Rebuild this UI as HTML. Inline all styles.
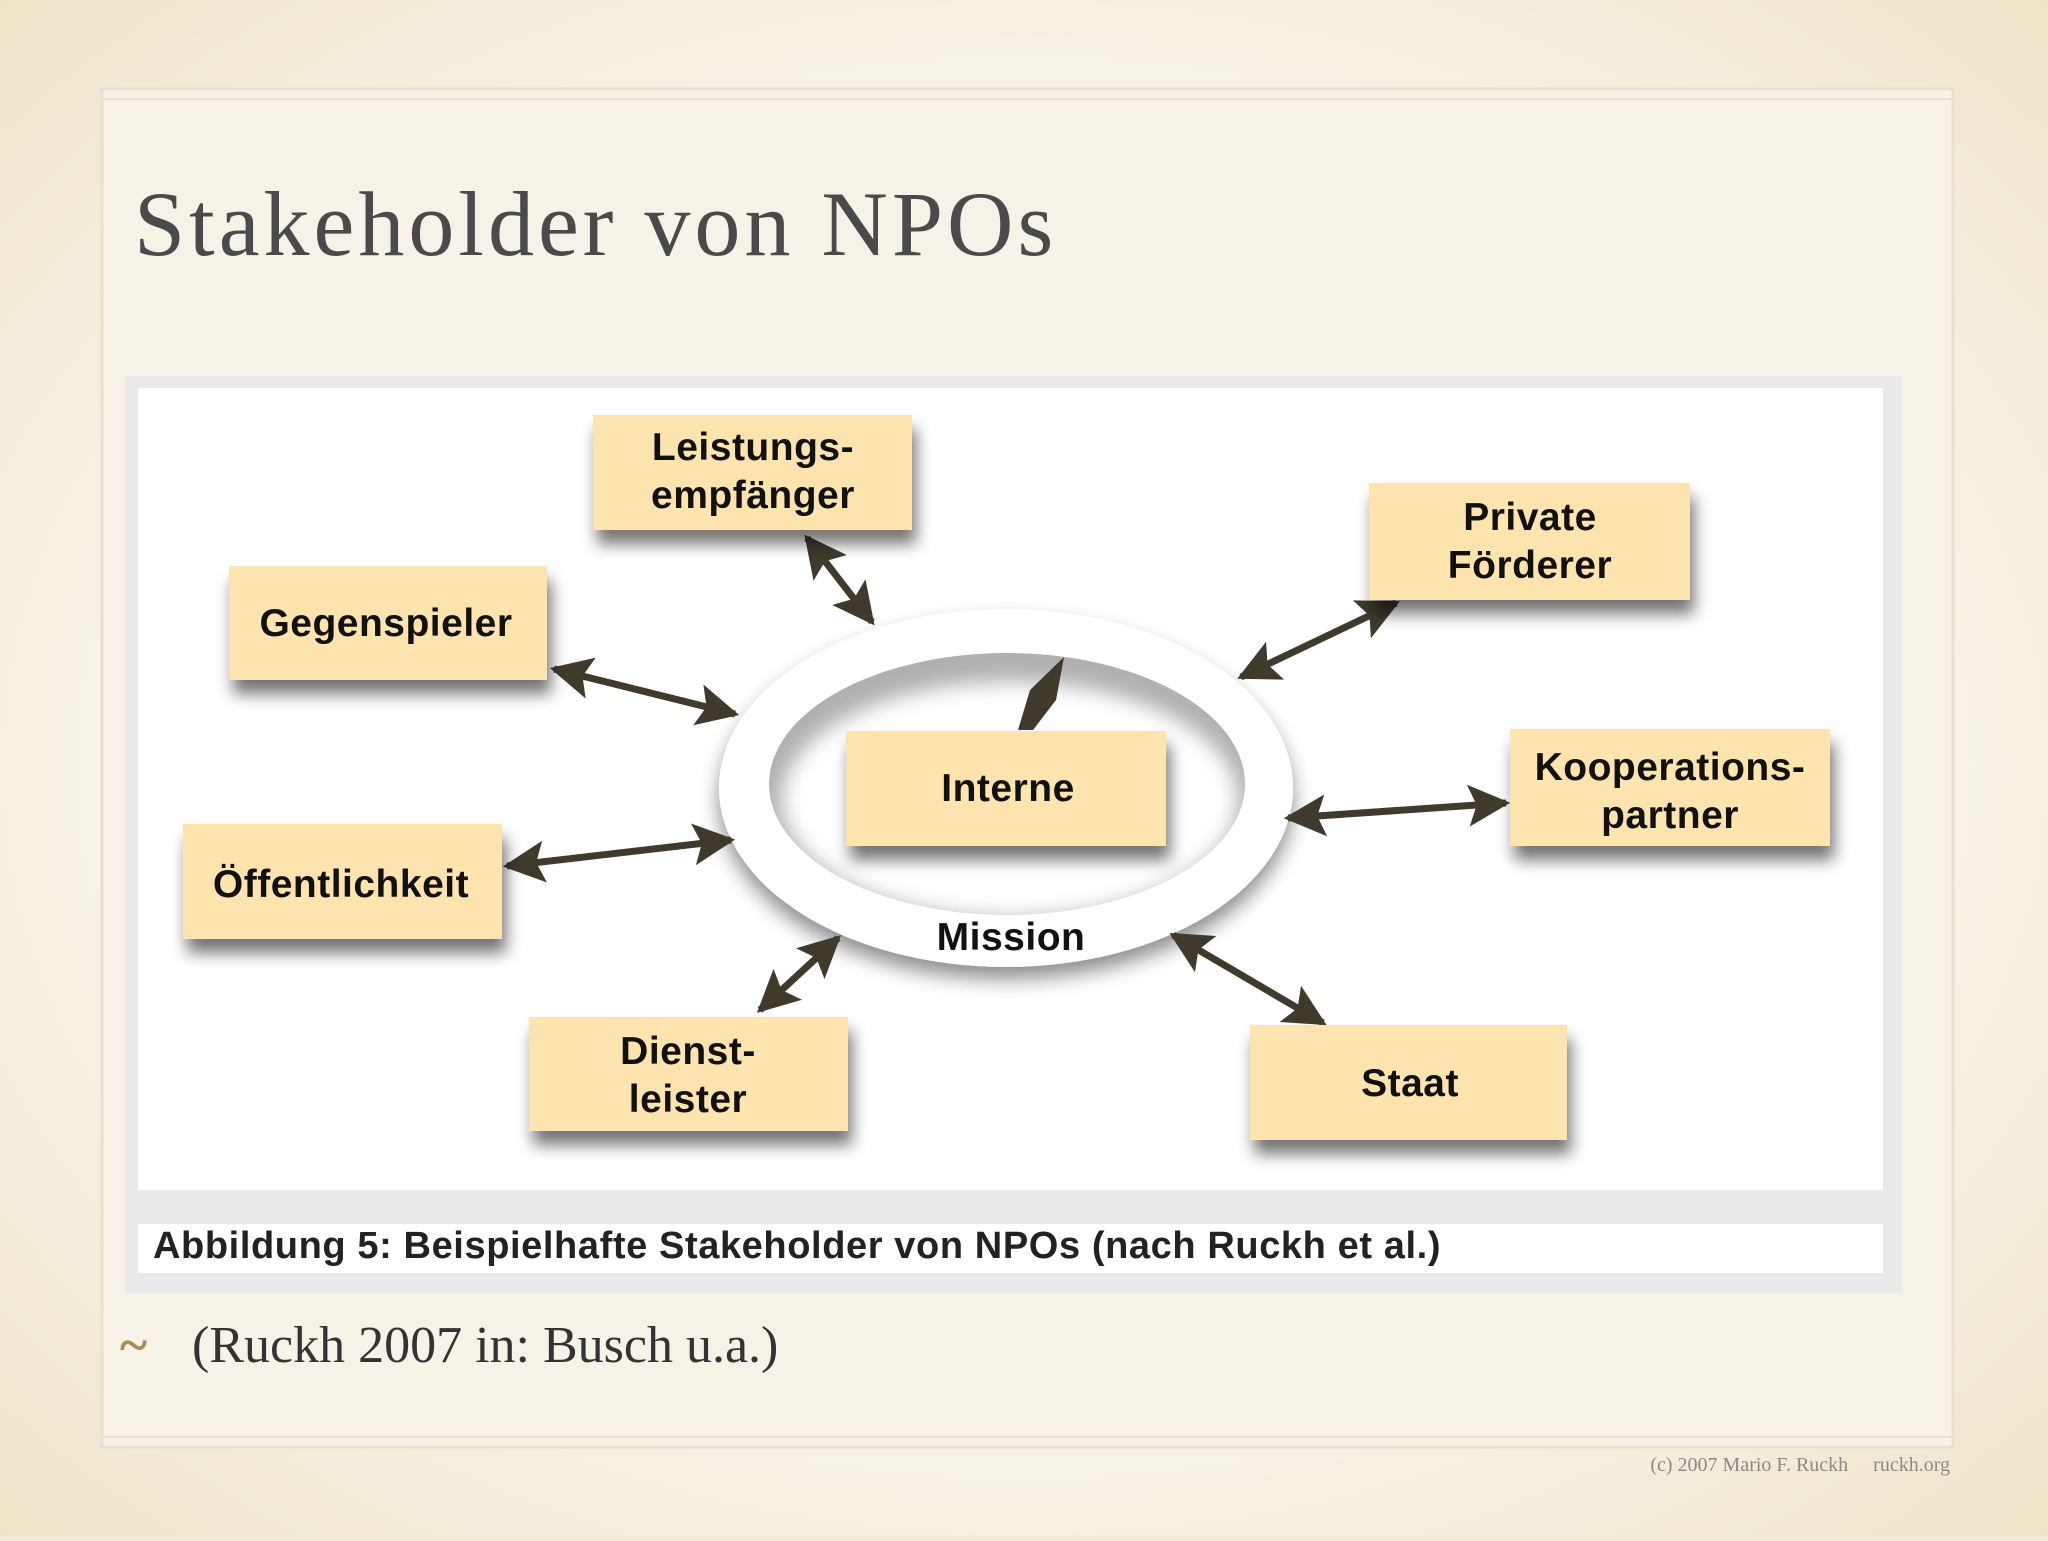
<!DOCTYPE html>
<html><head><meta charset="utf-8"><style>
html,body{margin:0;padding:0}
body{width:2048px;height:1536px;overflow:hidden;background:#f1ead6}
</style></head><body>
<svg width="2048" height="1536" viewBox="0 0 2048 1536" xmlns="http://www.w3.org/2000/svg">
<defs>
<radialGradient id="bg" cx="50%" cy="50%" r="75%">
<stop offset="0.6" stop-color="#f7f2e7"/><stop offset="1" stop-color="#ece2c4"/>
</radialGradient>
<filter id="sh" x="-20%" y="-20%" width="150%" height="160%">
<feGaussianBlur in="SourceAlpha" stdDeviation="8"/><feOffset dx="4" dy="14"/>
<feComponentTransfer><feFuncA type="linear" slope="0.55"/></feComponentTransfer>
<feMerge><feMergeNode/><feMergeNode in="SourceGraphic"/></feMerge></filter>
<filter id="rs" x="-20%" y="-20%" width="140%" height="150%">
<feGaussianBlur in="SourceAlpha" stdDeviation="10"/><feOffset dx="0" dy="12"/>
<feComponentTransfer><feFuncA type="linear" slope="0.45"/></feComponentTransfer>
<feMerge><feMergeNode/><feMergeNode in="SourceGraphic"/></feMerge></filter>
<filter id="bl"><feGaussianBlur stdDeviation="10"/></filter>
<marker id="ah" viewBox="0 0 10 10" refX="9" refY="5" markerWidth="6" markerHeight="6" orient="auto-start-reverse" markerUnits="strokeWidth">
<path d="M0,0 L10,5 L0,10 L2,5 z" fill="#3f3a2c"/></marker>
</defs>
<rect width="2048" height="1536" fill="url(#bg)"/>
<rect x="102" y="89" width="1851" height="1358" fill="#f7f2e7" stroke="#e8e0cf" stroke-width="3"/>
<line x1="102" y1="99" x2="1953" y2="99" stroke="#ece4d4" stroke-width="2"/>
<line x1="102" y1="1437" x2="1953" y2="1437" stroke="#ece4d4" stroke-width="2"/>
<text x="134" y="255" font-family="Liberation Serif, serif" font-size="92" fill="#4a4a4a" letter-spacing="4">Stakeholder von NPOs</text>

<rect x="125" y="376" width="1777" height="917" fill="#e9e9e9"/>
<rect x="138" y="388" width="1745" height="802" fill="#ffffff"/>
<rect x="138" y="1224" width="1745" height="49" fill="#ffffff"/>
<text x="153" y="1258" font-family="Liberation Sans, sans-serif" font-weight="bold" font-size="38" fill="#222" letter-spacing="0.6">Abbildung 5: Beispielhafte Stakeholder von NPOs (nach Ruckh et al.)</text>

<g filter="url(#rs)"><ellipse cx="1006" cy="788" rx="287" ry="179" fill="#ffffff"/></g>
<ellipse cx="1007" cy="784" rx="238" ry="131" fill="#b0b0b0"/>
<ellipse cx="1010" cy="800" rx="228" ry="118" fill="#ffffff" filter="url(#bl)"/>

<g stroke="#3f3a2c" stroke-width="7" fill="none" marker-start="url(#ah)" marker-end="url(#ah)">
<line x1="807" y1="538" x2="872" y2="622"/>
<line x1="554" y1="669" x2="735" y2="714"/>
<line x1="1396" y1="603" x2="1241" y2="677"/>
<line x1="507" y1="866" x2="731" y2="840"/>
<line x1="1288" y1="818" x2="1506" y2="803"/>
<line x1="760" y1="1010" x2="838" y2="938"/>
<line x1="1173" y1="935" x2="1323" y2="1023"/>
</g>
<path d="M1018,730 L1030,690 L1064,657 L1056,700 L1033,730 z" fill="#3f3a2c"/>

<g fill="#fde3ae" filter="url(#sh)">
<rect x="593" y="415" width="319" height="115"/>
<rect x="229" y="566" width="318" height="114"/>
<rect x="1369" y="483" width="321" height="117"/>
<rect x="846" y="731" width="320" height="115"/>
<rect x="1510" y="729" width="320" height="117"/>
<rect x="183" y="824" width="319" height="115"/>
<rect x="529" y="1017" width="319" height="114"/>
<rect x="1250" y="1025" width="317" height="115"/>
</g>
<g font-family="Liberation Sans, sans-serif" font-weight="bold" font-size="39" fill="#111" text-anchor="middle" letter-spacing="0.5">
<text x="753" y="460">Leistungs-</text><text x="753" y="508">empfänger</text>
<text x="386" y="636">Gegenspieler</text>
<text x="1530" y="530">Private</text><text x="1530" y="578">Förderer</text>
<text x="1008" y="801">Interne</text>
<text x="1670" y="780">Kooperations-</text><text x="1670" y="828">partner</text>
<text x="341" y="897">Öffentlichkeit</text>
<text x="688" y="1064">Dienst-</text><text x="688" y="1112">leister</text>
<text x="1410" y="1096">Staat</text>
<text x="1011" y="950">Mission</text>
</g>

<text x="120" y="1362" font-family="Liberation Serif, serif" font-size="52" font-weight="bold" fill="#b08a50">~</text>
<text x="192" y="1362" font-family="Liberation Serif, serif" font-size="52" fill="#333">(Ruckh 2007 in: Busch u.a.)</text>
<text x="1950" y="1471" text-anchor="end" font-family="Liberation Serif, serif" font-size="20" fill="#8a8a8a" xml:space="preserve">(c) 2007 Mario F. Ruckh     ruckh.org</text>
</svg>
</body></html>
